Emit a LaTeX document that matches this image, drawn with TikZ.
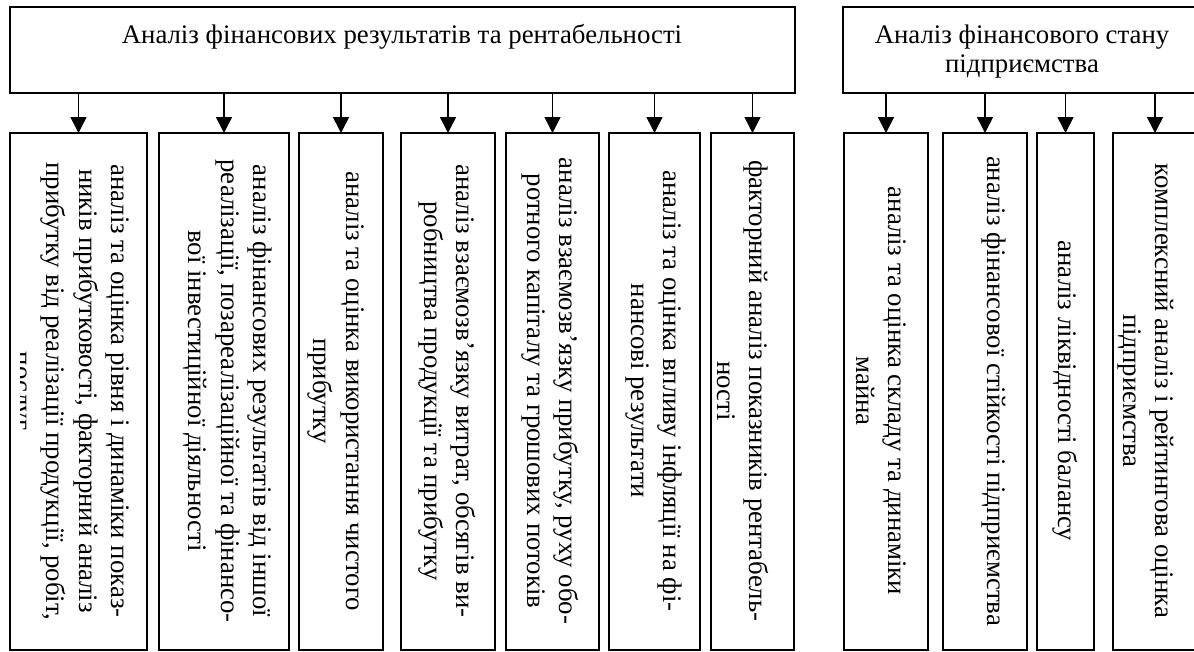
\documentclass[tikz,border=0pt]{standalone}
\usepackage{fontspec}
\setmainfont{Liberation Serif}
\usetikzlibrary{arrows.meta}
\begin{document}
\begin{tikzpicture}[x=1pt,y=-1pt,
  box/.style={draw, line width=1.6pt, inner sep=0pt, outer sep=0pt, anchor=north west},
  hbox/.style={box, minimum height=86pt},
  vbox/.style={box, minimum height=517pt},
  arr/.style={line width=1.6pt, -{Triangle[length=16pt,width=16pt]}},
  vtext/.style={rotate=-90, align=center, font=\fontsize{26.8}{32.5}\selectfont, inner sep=0pt},
  htext/.style={align=center, font=\fontsize{26.8}{29}\selectfont, inner sep=0pt}]
\useasboundingbox (0,0) rectangle (1194,651);
\clip (0,0) rectangle (1194,651);
% headers
\node[hbox, minimum width=785pt] (hL) at (10,7) {};
\node[hbox, minimum width=358pt] (hR) at (843,7) {};
\node[htext, anchor=base] (hLt) at (402,43) {Аналіз фінансових результатів та рентабельності};
\node[htext, anchor=center] (hRt) at (1022,52) {Аналіз фінансового стану\\підприємства};
% boxes
\node[vbox, minimum width=137pt] (b1) at (10,133) {};
\node[vbox, minimum width=130pt] (b2) at (159,133) {};
\node[vbox, minimum width=84pt] (b3) at (299,133) {};
\node[vbox, minimum width=94pt] (b4) at (401,133) {};
\node[vbox, minimum width=93pt] (b5) at (506,133) {};
\node[vbox, minimum width=91pt] (b6) at (609,133) {};
\node[vbox, minimum width=83pt] (b7) at (711,133) {};
\node[vbox, minimum width=84pt] (b8) at (844,133) {};
\node[vbox, minimum width=84pt] (b9) at (943,133) {};
\node[vbox, minimum width=57pt] (b10) at (1037,133) {};
\node[vbox, minimum width=84pt] (b11) at (1113,133) {};
% arrows
\foreach \b in {b1,b2,b3,b4,b5,b6,b7}
  \draw[arr] (hL.south -| \b.north) -- (\b.north);
\foreach \b in {b8,b9,b10,b11}
  \draw[arr] (hR.south -| \b.north) -- (\b.north);
% texts
\begin{scope}
\clip (20,140) rectangle (147,645);
\node[vtext] (t1) at (69,391) {аналіз та оцінка рівня і динаміки показ-\\ників прибутковості, факторний аналіз\\прибутку від реалізації продукції, робіт,\\послуг};
\end{scope}
\node[vtext] (t2) at (228,391) {аналіз фінансових результатів від іншої\\реалізації, позареалізаційної та фінансо-\\вої інвестиційної діяльності};
\node[vtext] (t3) at (336,391) {аналіз та оцінка використання чистого\\прибутку};
\node[vtext] (t4) at (447,391) {аналіз взаємозв'язку витрат, обсягів ви-\\робництва продукції та прибутку};
\node[vtext] (t5) at (550,391) {аналіз взаємозв'язку прибутку, руху обо-\\ротного капіталу та грошових потоків};
\node[vtext] (t6) at (654,391) {аналіз та оцінка впливу інфляції на фі-\\нансові результати};
\node[vtext] (t7) at (743,391) {факторний аналіз показників рентабель-\\ності};
\node[vtext] (t8) at (881,391) {аналіз та оцінка складу та динаміки\\майна};
\node[vtext] (t9) at (994,391) {аналіз фінансової стійкості підприємства};
\node[vtext] (t10) at (1065,391) {аналіз ліквідності балансу};
\node[vtext] (t11) at (1146,391) {комплексний аналіз і рейтингова оцінка\\підприємства};
\end{tikzpicture}
\end{document}
